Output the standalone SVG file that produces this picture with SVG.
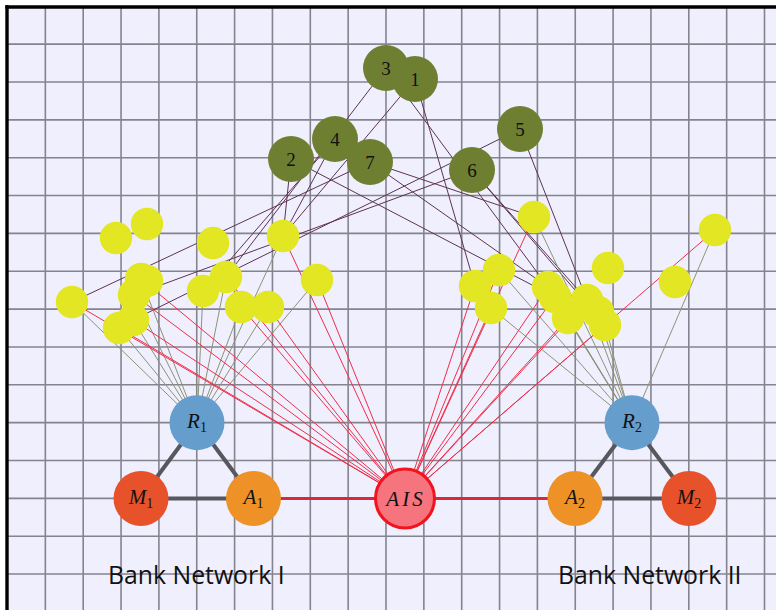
<svg xmlns="http://www.w3.org/2000/svg" width="776" height="610" viewBox="0 0 776 610">
<defs>
<style>
.grid line{stroke:#84838e;stroke-width:1.6}
.pe{stroke:#5e3352;stroke-width:1}
.ge{stroke:#8c9378;stroke-width:1}
.re{stroke:#ee2f4a;stroke-width:1}
.tri{stroke:#57575f;stroke-width:4}
.ais{stroke:#d8283a;stroke-width:3}
.g{fill:#6f7f31}
.y{fill:#e2e623}
.M{fill:#e8522b}
.A{fill:#ee9228}
.R{fill:#659dcc}
.lab{font-family:"Liberation Serif","DejaVu Serif",serif;font-style:italic;font-size:21px;fill:#111;text-anchor:middle}
.num{font-family:"Liberation Serif","DejaVu Serif",serif;font-size:19px;fill:#111;text-anchor:middle}
.sub{font-style:normal;font-size:14px}
.title{font-family:"Open Sans","Noto Sans",sans-serif;font-size:24.8px;fill:#111}
</style>
</defs>
<rect x="0" y="0" width="776" height="610" fill="#ffffff"/>
<rect x="7" y="7" width="769" height="603" fill="#efeffd"/>
<g class="grid">
<line x1="45.35" y1="7" x2="45.35" y2="610"/>
<line x1="83.2" y1="7" x2="83.2" y2="610"/>
<line x1="121.05" y1="7" x2="121.05" y2="610"/>
<line x1="158.9" y1="7" x2="158.9" y2="610"/>
<line x1="196.75" y1="7" x2="196.75" y2="610"/>
<line x1="234.6" y1="7" x2="234.6" y2="610"/>
<line x1="272.45" y1="7" x2="272.45" y2="610"/>
<line x1="310.3" y1="7" x2="310.3" y2="610"/>
<line x1="348.15" y1="7" x2="348.15" y2="610"/>
<line x1="386" y1="7" x2="386" y2="610"/>
<line x1="423.85" y1="7" x2="423.85" y2="610"/>
<line x1="461.7" y1="7" x2="461.7" y2="610"/>
<line x1="499.55" y1="7" x2="499.55" y2="610"/>
<line x1="537.4" y1="7" x2="537.4" y2="610"/>
<line x1="575.25" y1="7" x2="575.25" y2="610"/>
<line x1="613.1" y1="7" x2="613.1" y2="610"/>
<line x1="650.95" y1="7" x2="650.95" y2="610"/>
<line x1="688.8" y1="7" x2="688.8" y2="610"/>
<line x1="726.65" y1="7" x2="726.65" y2="610"/>
<line x1="764.5" y1="7" x2="764.5" y2="610"/>
<line x1="7" y1="44.15" x2="776" y2="44.15"/>
<line x1="7" y1="82" x2="776" y2="82"/>
<line x1="7" y1="119.85" x2="776" y2="119.85"/>
<line x1="7" y1="157.7" x2="776" y2="157.7"/>
<line x1="7" y1="195.55" x2="776" y2="195.55"/>
<line x1="7" y1="233.4" x2="776" y2="233.4"/>
<line x1="7" y1="271.25" x2="776" y2="271.25"/>
<line x1="7" y1="309.1" x2="776" y2="309.1"/>
<line x1="7" y1="346.95" x2="776" y2="346.95"/>
<line x1="7" y1="384.8" x2="776" y2="384.8"/>
<line x1="7" y1="422.65" x2="776" y2="422.65"/>
<line x1="7" y1="460.5" x2="776" y2="460.5"/>
<line x1="7" y1="498.35" x2="776" y2="498.35"/>
<line x1="7" y1="536.2" x2="776" y2="536.2"/>
<line x1="7" y1="574.05" x2="776" y2="574.05"/>
</g>
<g id="frame" stroke="#000" stroke-width="3.4">
<line x1="7" y1="5.3" x2="7" y2="610"/>
<line x1="5.3" y1="7" x2="776" y2="7"/>
</g>
<g id="connectors">
<line class="pe" x1="386" y1="68" x2="226" y2="277"/>
<line class="pe" x1="386" y1="68" x2="548" y2="287"/>
<line class="pe" x1="415" y1="79" x2="283" y2="236"/>
<line class="pe" x1="415" y1="79" x2="475" y2="286"/>
<line class="pe" x1="335" y1="139" x2="203" y2="291"/>
<line class="pe" x1="335" y1="139" x2="283" y2="236"/>
<line class="pe" x1="291" y1="159" x2="283" y2="236"/>
<line class="pe" x1="291" y1="159" x2="555" y2="297"/>
<line class="pe" x1="370" y1="162" x2="72" y2="302"/>
<line class="pe" x1="370" y1="162" x2="534" y2="217"/>
<line class="pe" x1="370" y1="162" x2="548" y2="287"/>
<line class="pe" x1="472" y1="170" x2="134" y2="295"/>
<line class="pe" x1="472" y1="170" x2="587" y2="300"/>
<line class="pe" x1="472" y1="170" x2="605" y2="325"/>
<line class="pe" x1="520" y1="129" x2="133" y2="320"/>
<line class="pe" x1="520" y1="129" x2="587" y2="300"/>
<line class="ge" x1="72" y1="302" x2="197" y2="423"/>
<line class="ge" x1="141" y1="279" x2="197" y2="423"/>
<line class="ge" x1="134" y1="295" x2="197" y2="423"/>
<line class="ge" x1="133" y1="320" x2="197" y2="423"/>
<line class="ge" x1="119" y1="328" x2="197" y2="423"/>
<line class="ge" x1="203" y1="291" x2="197" y2="423"/>
<line class="ge" x1="226" y1="277" x2="197" y2="423"/>
<line class="ge" x1="241" y1="307" x2="197" y2="423"/>
<line class="ge" x1="268" y1="307" x2="197" y2="423"/>
<line class="ge" x1="283" y1="236" x2="197" y2="423"/>
<line class="ge" x1="317" y1="280" x2="197" y2="423"/>
<line class="ge" x1="534" y1="217" x2="632" y2="423"/>
<line class="ge" x1="715" y1="230" x2="632" y2="423"/>
<line class="ge" x1="499" y1="270" x2="632" y2="423"/>
<line class="ge" x1="491" y1="308" x2="632" y2="423"/>
<line class="ge" x1="548" y1="287" x2="632" y2="423"/>
<line class="ge" x1="555" y1="297" x2="632" y2="423"/>
<line class="ge" x1="587" y1="300" x2="632" y2="423"/>
<line class="ge" x1="568" y1="318" x2="632" y2="423"/>
<line class="ge" x1="598" y1="312" x2="632" y2="423"/>
<line class="ge" x1="605" y1="325" x2="632" y2="423"/>
<line class="re" x1="72" y1="302" x2="405" y2="498"/>
<line class="re" x1="141" y1="279" x2="405" y2="498"/>
<line class="re" x1="134" y1="295" x2="405" y2="498"/>
<line class="re" x1="133" y1="320" x2="405" y2="498"/>
<line class="re" x1="119" y1="328" x2="405" y2="498"/>
<line class="re" x1="241" y1="307" x2="405" y2="498"/>
<line class="re" x1="268" y1="307" x2="405" y2="498"/>
<line class="re" x1="283" y1="236" x2="405" y2="498"/>
<line class="re" x1="317" y1="280" x2="405" y2="498"/>
<line class="re" x1="226" y1="277" x2="405" y2="498"/>
<line class="re" x1="534" y1="217" x2="405" y2="498"/>
<line class="re" x1="715" y1="230" x2="405" y2="498"/>
<line class="re" x1="499" y1="270" x2="405" y2="498"/>
<line class="re" x1="475" y1="286" x2="405" y2="498"/>
<line class="re" x1="491" y1="308" x2="405" y2="498"/>
<line class="re" x1="548" y1="287" x2="405" y2="498"/>
<line class="re" x1="555" y1="297" x2="405" y2="498"/>
<line class="re" x1="587" y1="300" x2="405" y2="498"/>
<line class="re" x1="568" y1="318" x2="405" y2="498"/>
<line class="re" x1="605" y1="325" x2="405" y2="498"/>
<line class="tri" x1="141" y1="498.5" x2="197" y2="422.7"/>
<line class="tri" x1="197" y1="422.7" x2="253.5" y2="498.5"/>
<line class="tri" x1="141" y1="498.5" x2="253.5" y2="498.5"/>
<line class="tri" x1="575" y1="498.5" x2="632" y2="422.7"/>
<line class="tri" x1="632" y1="422.7" x2="689" y2="498.5"/>
<line class="tri" x1="575" y1="498.5" x2="689" y2="498.5"/>
<line class="ais" x1="253.5" y1="498.5" x2="405" y2="498.5"/>
<line class="ais" x1="405" y1="498.5" x2="575" y2="498.5"/>
</g>
<g id="yellow">
<circle class="y" cx="116" cy="238" r="16.2"/>
<circle class="y" cx="147" cy="224" r="16.2"/>
<circle class="y" cx="72" cy="302" r="16.2"/>
<circle class="y" cx="141" cy="279" r="16.2"/>
<circle class="y" cx="147" cy="281" r="16.2"/>
<circle class="y" cx="134" cy="295" r="16.2"/>
<circle class="y" cx="133" cy="320" r="16.2"/>
<circle class="y" cx="119" cy="328" r="16.2"/>
<circle class="y" cx="213" cy="243" r="16.2"/>
<circle class="y" cx="203" cy="291" r="16.2"/>
<circle class="y" cx="226" cy="277" r="16.2"/>
<circle class="y" cx="241" cy="307" r="16.2"/>
<circle class="y" cx="268" cy="307" r="16.2"/>
<circle class="y" cx="283" cy="236" r="16.2"/>
<circle class="y" cx="317" cy="280" r="16.2"/>
<circle class="y" cx="534" cy="217" r="16.2"/>
<circle class="y" cx="715" cy="230" r="16.2"/>
<circle class="y" cx="608" cy="268" r="16.2"/>
<circle class="y" cx="675" cy="282" r="16.2"/>
<circle class="y" cx="499" cy="270" r="16.2"/>
<circle class="y" cx="475" cy="286" r="16.2"/>
<circle class="y" cx="491" cy="308" r="16.2"/>
<circle class="y" cx="548" cy="287" r="16.2"/>
<circle class="y" cx="555" cy="297" r="16.2"/>
<circle class="y" cx="587" cy="300" r="16.2"/>
<circle class="y" cx="568" cy="318" r="16.2"/>
<circle class="y" cx="598" cy="312" r="16.2"/>
<circle class="y" cx="605" cy="325" r="16.2"/>
</g>
<g id="n3"><circle class="g" cx="386" cy="68" r="23"/><text class="num" x="386" y="74.5">3</text></g>
<g id="n1"><circle class="g" cx="415" cy="79" r="23"/><text class="num" x="415" y="85.5">1</text></g>
<g id="n4"><circle class="g" cx="335" cy="139" r="23"/><text class="num" x="335" y="145.5">4</text></g>
<g id="n2"><circle class="g" cx="291" cy="159" r="23"/><text class="num" x="291" y="165.5">2</text></g>
<g id="n7"><circle class="g" cx="370" cy="162" r="23"/><text class="num" x="370" y="168.5">7</text></g>
<g id="n6"><circle class="g" cx="472" cy="170" r="23"/><text class="num" x="472" y="176.5">6</text></g>
<g id="n5"><circle class="g" cx="520" cy="129" r="23"/><text class="num" x="520" y="135.5">5</text></g>
<g id="R1"><circle class="R" cx="197" cy="422.7" r="27.5"/><text class="lab" x="197" y="428">R<tspan class="sub" dy="4">1</tspan></text></g>
<g id="M1"><circle class="M" cx="141" cy="498.5" r="27.5"/><text class="lab" x="141" y="504">M<tspan class="sub" dy="4">1</tspan></text></g>
<g id="A1"><circle class="A" cx="253.5" cy="498.5" r="27.5"/><text class="lab" x="253.5" y="504">A<tspan class="sub" dy="4">1</tspan></text></g>
<g id="AIS"><circle cx="405" cy="498.5" r="29.5" fill="#f5747e" stroke="#f0141e" stroke-width="3"/><text class="lab" x="406" y="505.5" letter-spacing="3">AIS</text></g>
<g id="R2"><circle class="R" cx="632" cy="422.7" r="27.5"/><text class="lab" x="632" y="428">R<tspan class="sub" dy="4">2</tspan></text></g>
<g id="A2"><circle class="A" cx="575" cy="498.5" r="27.5"/><text class="lab" x="575" y="504">A<tspan class="sub" dy="4">2</tspan></text></g>
<g id="M2"><circle class="M" cx="689" cy="498.5" r="27.5"/><text class="lab" x="689" y="504">M<tspan class="sub" dy="4">2</tspan></text></g>
<g id="labels">
<text class="title" x="108" y="583.5">Bank Network I</text>
<text class="title" x="558" y="583.5">Bank Network II</text>
</g>
</svg>
